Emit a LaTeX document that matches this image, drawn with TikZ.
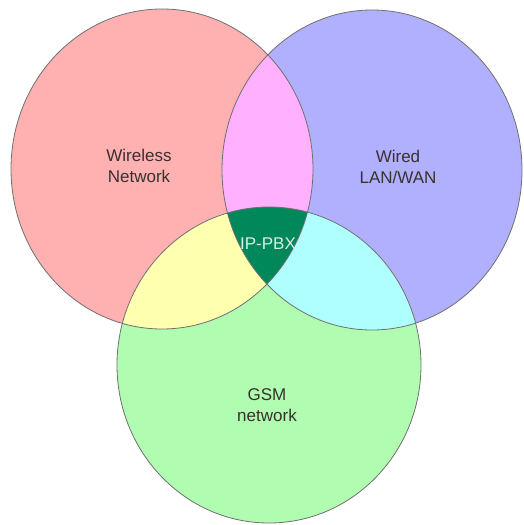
\documentclass[tikz,border=0pt]{standalone}
\usepackage{fontspec}
\setmainfont{Liberation Sans}
\definecolor{wlfill}{HTML}{FFB0B0}
\definecolor{wdfill}{HTML}{B0B0FF}
\definecolor{gsmfill}{HTML}{B0FCB0}
\definecolor{wlwd}{HTML}{FFB0FF}
\definecolor{wlgsm}{HTML}{FFFFB0}
\definecolor{wdgsm}{HTML}{B0FFFF}
\definecolor{core}{HTML}{00875A}
\definecolor{rim}{HTML}{707070}
\definecolor{ink}{HTML}{3A3030}
\tikzset{
  setlabel/.style={align=center, text=ink, font=\fontsize{17}{21}\selectfont, inner sep=0pt},
  corelabel/.style={text=white!85!core, font=\fontsize{17}{21}\selectfont, inner sep=0pt},
  rimline/.style={draw=rim, line width=0.8pt}
}
\begin{document}
\begin{tikzpicture}[x=1pt,y=-1pt]
\useasboundingbox (0,0) rectangle (523,525);
% the three sets
\fill[wlfill] (162,169) ellipse [x radius=151, y radius=160];
\fill[wdfill] (372,170) ellipse [x radius=150, y radius=160];
\fill[gsmfill] (269,365) ellipse [x radius=152, y radius=158];
% pairwise overlaps
\begin{scope}
  \clip (162,169) ellipse [x radius=151, y radius=160];
  \fill[wlwd] (372,170) ellipse [x radius=150, y radius=160];
  \fill[wlgsm] (269,365) ellipse [x radius=152, y radius=158];
\end{scope}
\begin{scope}
  \clip (372,170) ellipse [x radius=150, y radius=160];
  \fill[wdgsm] (269,365) ellipse [x radius=152, y radius=158];
\end{scope}
% common core
\begin{scope}
  \clip (162,169) ellipse [x radius=151, y radius=160];
  \clip (372,170) ellipse [x radius=150, y radius=160];
  \fill[core] (269,365) ellipse [x radius=152, y radius=158];
\end{scope}
% outlines
\draw[rimline] (162,169) ellipse [x radius=151, y radius=160];
\draw[rimline] (372,170) ellipse [x radius=150, y radius=160];
\draw[rimline] (269,365) ellipse [x radius=152, y radius=158];
% labels
\node[setlabel] (wireless) at (139,166) {Wireless\\Network};
\node[setlabel] (wired) at (398,167) {Wired\\LAN/WAN};
\node[setlabel] (gsm) at (267,405) {GSM\\network};
\node[corelabel] (pbx) at (268,244) {IP-PBX};
\end{tikzpicture}
\end{document}
